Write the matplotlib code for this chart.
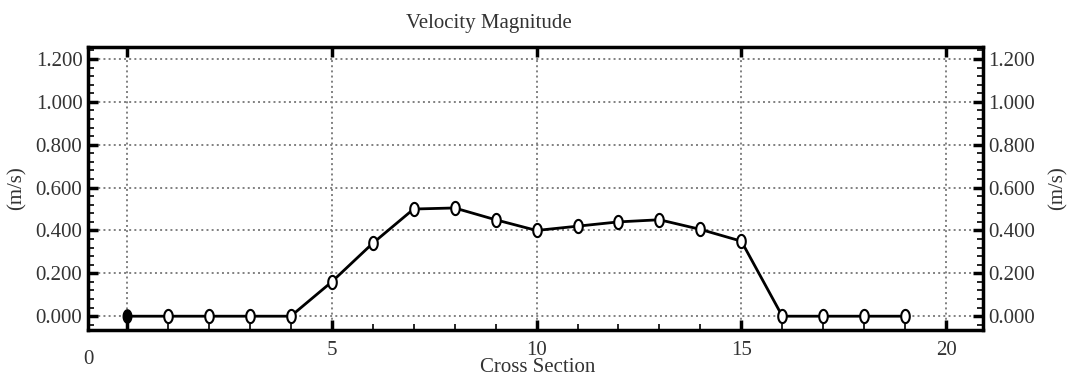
import numpy as np
import matplotlib.pyplot as plt
from matplotlib.path import Path
from matplotlib.ticker import MultipleLocator, FixedLocator

# data
section = [0, 1, 2, 3, 4, 5, 6, 7, 8, 9, 10, 11, 12, 13, 14, 15, 16, 17, 18, 19]
velocity = [0.0, 0.0, 0.0, 0.0, 0.0, 0.16, 0.34, 0.50, 0.505, 0.45, 0.40,
            0.42, 0.44, 0.45, 0.405, 0.35, 0.0, 0.0, 0.0, 0.0]
y_ticks = [0.0, 0.2, 0.4, 0.6, 0.8, 1.0, 1.2]
x_ticks = [5, 10, 15, 20]

plt.rcParams['font.family'] = ['Liberation Serif', 'DejaVu Serif']
txt = '#333333'
fs = 15

fig = plt.figure(figsize=(10.69, 3.76), dpi=100)
ax = fig.add_axes([0.0823, 0.122, 0.8373, 0.753])

# tall oval marker
t = np.linspace(0, 2 * np.pi, 40)
oval = Path(np.column_stack([0.65 * np.cos(t), np.sin(t)]), closed=True)

ax.plot(section, velocity, color='black', lw=2, zorder=3)
ax.plot(section[1:], velocity[1:], ls='none', marker=oval, ms=9.5,
        mfc='white', mec='black', mew=1.5, zorder=4)
ax.plot(section[:1], velocity[:1], ls='none', marker=oval, ms=9.5,
        mfc='black', mec='black', zorder=4)

ax.set_xlim(-0.95, 20.9)
ax.set_ylim(-0.065, 1.256)

# grid
ax.xaxis.set_major_locator(FixedLocator([0] + x_ticks))
ax.xaxis.set_minor_locator(MultipleLocator(1))
ax.yaxis.set_major_locator(FixedLocator(y_ticks))
ax.yaxis.set_minor_locator(MultipleLocator(0.04))
ax.grid(True, which='major', color='#808080', ls=':', lw=1.4)
ax.set_axisbelow(True)

ax.set_xticklabels([''] + [str(v) for v in x_ticks])
ax.set_yticklabels(['%.3f' % v for v in y_ticks])
ax.tick_params(which='major', direction='in', length=7, width=2.5,
               labelsize=fs, labelcolor=txt, top=True, right=True,
               labelright=True, pad=3)
ax.tick_params(axis='y', which='major', labelright=True, pad=4)
ax.tick_params(which='minor', direction='in', length=4, width=1.2,
               right=True)
ax.tick_params(axis='x', which='major', pad=8)

for s in ax.spines.values():
    s.set_linewidth(2.5)

ax.text(-0.95, -0.16, '0', ha='center', va='top', fontsize=fs, color=txt,
        transform=ax.transData)

fig.text(0.016, 0.5, '(m/s)', rotation=90, ha='center', va='center',
         fontsize=fs, color=txt)
fig.text(0.99, 0.5, '(m/s)', rotation=90, ha='center', va='center',
         fontsize=fs, color=txt)
fig.text(0.503, 0.022, 'Cross Section', ha='center', va='center',
         fontsize=fs, color=txt)
fig.text(0.457, 0.925, 'Velocity Magnitude', ha='center', fontsize=fs,
         color=txt)

fig.savefig('out.png', dpi=100)
